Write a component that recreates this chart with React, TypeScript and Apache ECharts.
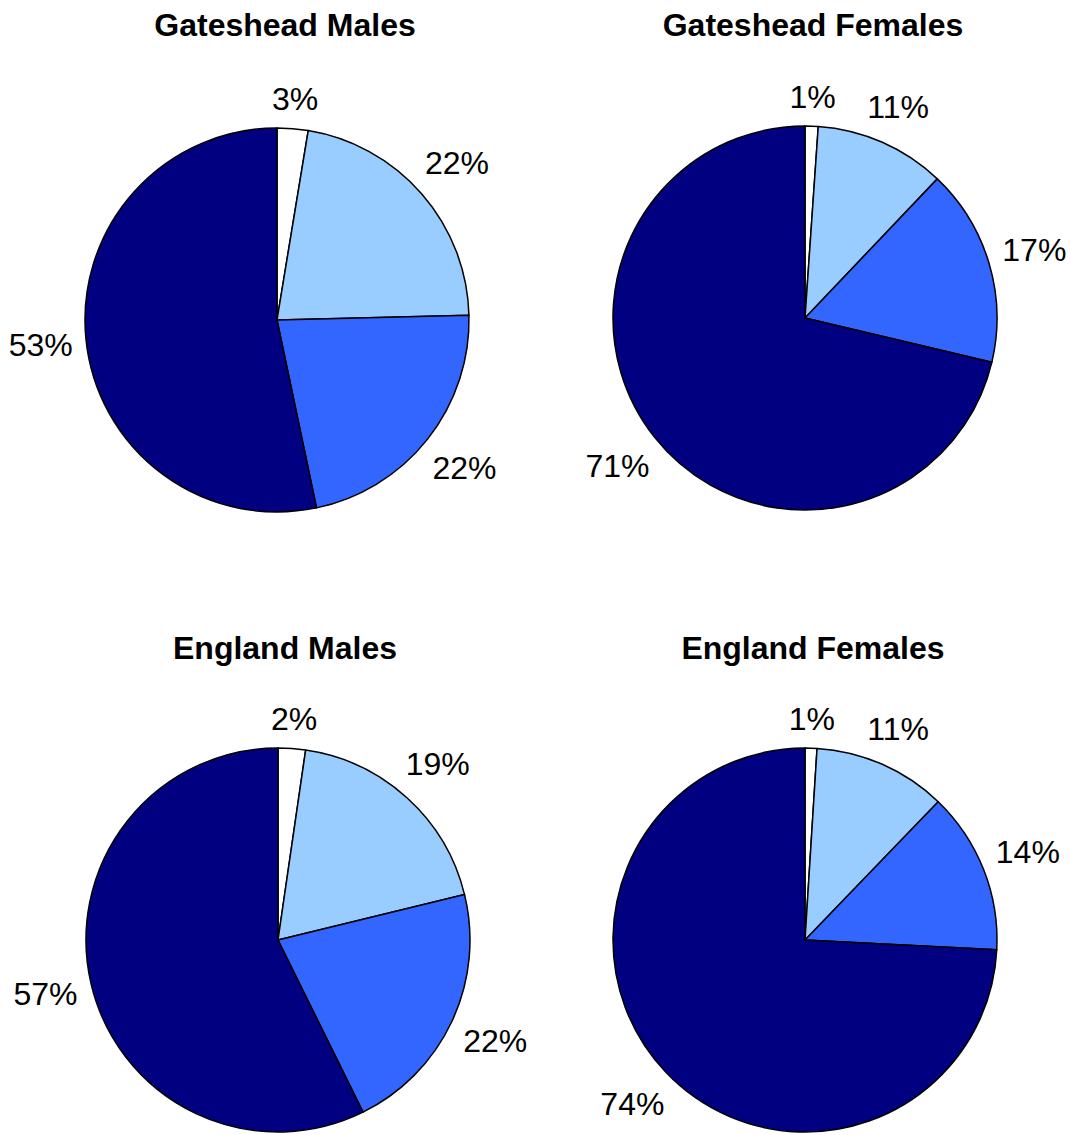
import React, { useEffect, useRef } from 'react';
import * as echarts from 'echarts';

// chart data, clockwise from 12 o'clock
const titles = ['Gateshead Males', 'Gateshead Females', 'England Males', 'England Females'];
const categories = ['Group 1', 'Group 2', 'Group 3', 'Group 4'];
const gatesheadMales = [2.6, 22.0, 22.1, 53.3];
const gatesheadFemales = [1.1, 11.0, 16.6, 71.3];
const englandMales = [2.3, 18.9, 21.5, 57.3];
const englandFemales = [1.0, 11.2, 13.6, 74.2];
const seriesValues = [gatesheadMales, gatesheadFemales, englandMales, englandFemales];

const colors = ['#FFFFFF', '#99CCFF', '#3366FF', '#000080'];

const WIDTH = 1071;
const HEIGHT = 1135;
const RADIUS = 192;
const LABEL_GAP = 12;
const FONT = '"Liberation Sans", Arial, Helvetica, sans-serif';
const centers: [number, number][] = [[277, 320], [805, 318], [278, 940], [805, 940]];
const titlePos: [number, number][] = [[285, 25], [813, 25], [285, 648], [813, 648]];

// Excel-like label placement: box centred on the slice's mid-angle, just outside the rim
const makeLabelLayout = (values: number[], center: [number, number]) => (params: any) => {
  const total = values.reduce((a, b) => a + b, 0);
  let before = 0;
  for (let k = 0; k < params.dataIndex; k++) before += values[k];
  const mid = ((before + values[params.dataIndex] / 2) / total) * Math.PI * 2;
  const sx = Math.sin(mid);
  const sy = -Math.cos(mid);
  const w = params.labelRect.width;
  const h = params.labelRect.height;
  const off = RADIUS + LABEL_GAP + (Math.abs(sx) * w) / 2 + (Math.abs(sy) * h) / 2;
  return {
    x: center[0] + sx * off,
    y: center[1] + sy * off,
    align: 'center',
    verticalAlign: 'middle'
  };
};

const App: React.FC = () => {
  const chartRef = useRef<HTMLDivElement>(null);

  useEffect(() => {
    if (!chartRef.current) return;
    const chart = echarts.init(chartRef.current, null, { renderer: 'svg' });

    const option: any = {
      animation: false,
      backgroundColor: '#FFFFFF',
      title: titles.map((t, i) => ({
        text: t,
        left: titlePos[i][0],
        top: titlePos[i][1],
        textAlign: 'center',
        textVerticalAlign: 'middle',
        padding: 0,
        textStyle: { color: '#000', fontSize: 32, fontWeight: 'bold', fontFamily: FONT }
      })),
      series: seriesValues.map((values, i) => ({
        type: 'pie',
        name: titles[i],
        center: centers[i],
        radius: RADIUS,
        startAngle: 90,
        clockwise: true,
        silent: true,
        avoidLabelOverlap: false,
        percentPrecision: 0,
        label: {
          show: true,
          position: 'outside',
          formatter: '{d}%',
          color: '#000',
          fontSize: 32,
          fontFamily: FONT
        },
        labelLine: { show: false },
        labelLayout: makeLabelLayout(values, centers[i]),
        itemStyle: { borderColor: '#000', borderWidth: 1.5 },
        emphasis: { disabled: true },
        data: categories.map((c, j) => ({
          name: c,
          value: values[j],
          itemStyle: { color: colors[j] }
        }))
      }))
    };

    chart.setOption(option);
    return () => chart.dispose();
  }, []);

  return (
    <div
      ref={chartRef}
      style={{ position: 'absolute', left: 0, top: 0, width: WIDTH, height: HEIGHT }}
    />
  );
};

export default App;
